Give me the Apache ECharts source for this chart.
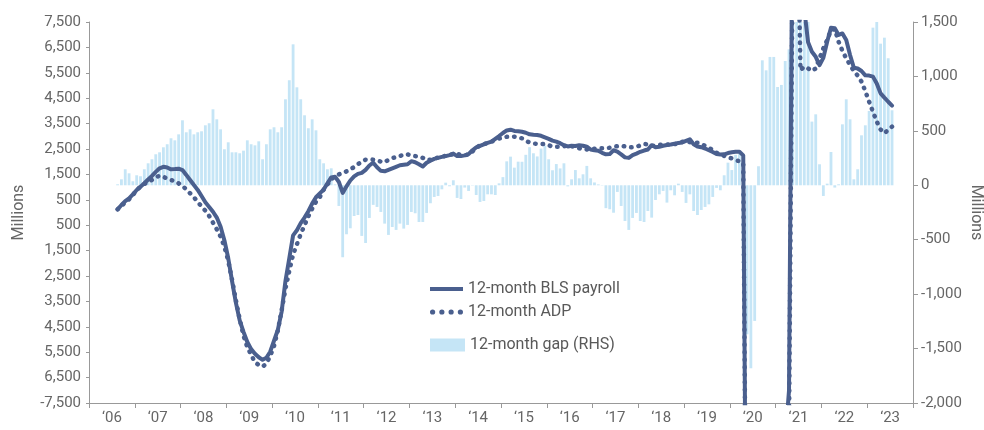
<!DOCTYPE html>
<html>
<head>
<meta charset="utf-8">
<script src="https://cdn.jsdelivr.net/npm/echarts@6/dist/echarts.min.js"></script>
<style>
  html, body { margin: 0; padding: 0; background: #fff; }
  #chart-main { width: 984px; height: 430px; }
</style>
</head>
<body>
<div id="chart-main"></div>
<script>
  // year labels on the bottom axis
  const years = ['‘06', '‘07', '‘08', '‘09', '‘10', '‘11', '‘12', '‘13', '‘14',
    '‘15', '‘16', '‘17', '‘18', '‘19', '‘20', '‘21', '‘22', '‘23'];
  // first data month: Aug 2006 (month index 7 from Jan 2006)
  const startMonth = 7;

  // 12-month gap, thousands (right axis)
  const gap = [
    9, 55, 147, 110, 37, 92, 83, 147, 202, 239,
    285, 303, 349, 377, 432, 413, 468, 597, 487, 514,
    468, 487, 496, 551, 570, 698, 606, 514, 331, 395,
    303, 303, 294, 318, 413, 377, 367, 404, 239, 377,
    514, 533, 487, 533, 790, 965, 1295, 900, 790, 643,
    524, 606, 505, 239, 202, 147, 156, 9, -190, -661,
    -450, -395, -282, -273, -465, -530, -300, -180, -199, -245,
    -352, -456, -383, -410, -352, -398, -364, -245, -257, -337,
    -337, -254, -165, -107, -98, -37, 24, -9, 46, -116,
    -126, -21, -52, -3, -89, -153, -144, -83, -83, -89,
    18, 75, 220, 263, 162, 217, 216, 280, 350, 294,
    265, 337, 365, 239, 138, 195, 155, 202, -10, 55,
    140, 64, 101, 178, 64, 26, 8, -3, -210, -220,
    -252, -61, -190, -328, -410, -300, -254, -328, -337, -236,
    -297, -135, -83, -52, -159, -46, -92, 15, -61, -162,
    -83, -236, -273, -227, -199, -175, -107, -24, -46, 92,
    208, 140, 280, 290, -800, -1369, -1681, -1246, 175, 1148,
    1056, 1179, 1179, 903, 922, 1142, 1249, 1500, 1500, 1500,
    1500, 1500, 585, 652, 193, -98, 15, 306, -21, 9,
    560, 790, 606, 55, 147, 459, 551, 683, 1448, 1510,
    1301, 1356, 1167, 689
  ];

  // 12-month BLS payroll change, thousands (left axis)
  const bls = [
    125, 295, 450, 560, 715, 885, 1015, 1150, 1300, 1440,
    1600, 1740, 1800, 1770, 1700, 1710, 1725, 1670, 1480, 1280,
    1080, 890, 650, 400, 220, 30, -200, -560, -1100, -1800,
    -2700, -3550, -4250, -4700, -5100, -5380, -5560, -5700, -5800, -5720,
    -5480, -5050, -4620, -3900, -2700, -1800, -900, -700, -420, -200,
    50, 350, 600, 750, 900, 1150, 1380, 1410, 1200, 770,
    1030, 1260, 1420, 1520, 1560, 1680, 1850, 1960, 1780, 1640,
    1620, 1680, 1740, 1800, 1860, 1880, 1900, 2020, 1980, 1900,
    1810, 1960, 2040, 2110, 2150, 2190, 2220, 2260, 2320, 2220,
    2220, 2250, 2300, 2450, 2560, 2620, 2680, 2740, 2790, 2900,
    3010, 3130, 3230, 3260, 3210, 3200, 3180, 3140, 3080, 3060,
    3050, 3020, 2960, 2900, 2830, 2790, 2730, 2650, 2600, 2630,
    2620, 2650, 2630, 2590, 2480, 2450, 2430, 2350, 2290, 2300,
    2450, 2400, 2290, 2170, 2150, 2260, 2320, 2390, 2440, 2480,
    2650, 2570, 2590, 2630, 2660, 2680, 2710, 2740, 2760, 2820,
    2880, 2690, 2600, 2570, 2520, 2450, 2380, 2300, 2280, 2290,
    2340, 2370, 2390, 2390, 2250, -19500, -17800, -15500, -13200, -12000,
    -11000, -10500, -10000, -9600, -9300, -9000, -7000, 14000, 12500, 10000,
    8000, 6700, 6330, 6130, 5800, 6090, 6720, 7270, 7250, 6990,
    7050, 6790, 6200, 5700, 5670, 5570, 5400, 5390, 5350, 5080,
    4690, 4520, 4360, 4210
  ];

  // 12-month ADP change, thousands (left axis)
  const adp = [
    125, 256, 400, 518, 689, 886, 1017, 1122, 1213, 1279,
    1384, 1450, 1410, 1332, 1279, 1240, 1148, 1043, 912, 754,
    597, 426, 230, 72, -138, -400, -663, -951, -1350, -1900,
    -2650, -3450, -4200, -4850, -5300, -5600, -5900, -6000, -6070, -5950,
    -5650, -5250, -4650, -3850, -3000, -2300, -1650, -1250, -850, -500,
    -150, 150, 420, 600, 900, 1100, 1300, 1420, 1500, 1560,
    1620, 1700, 1790, 1900, 2000, 2080, 2090, 2080, 2060, 2000,
    1980, 2080, 2140, 2180, 2220, 2290, 2290, 2250, 2220, 2200,
    2150, 2070, 2080, 2130, 2160, 2200, 2230, 2270, 2290, 2300,
    2280, 2260, 2280, 2400, 2550, 2640, 2690, 2740, 2790, 2850,
    2910, 2950, 2980, 2990, 2985, 2960, 2920, 2830, 2750, 2720,
    2700, 2690, 2700, 2650, 2590, 2590, 2590, 2610, 2630, 2610,
    2570, 2530, 2490, 2480, 2490, 2510, 2525, 2525, 2525, 2550,
    2590, 2610, 2630, 2600, 2560, 2570, 2590, 2640, 2700, 2680,
    2630, 2630, 2660, 2690, 2680, 2660, 2690, 2720, 2780, 2810,
    2770, 2750, 2750, 2700, 2620, 2540, 2470, 2350, 2290, 2230,
    2170, 2130, 2060, 2020, 1950, -19000, -17500, -15300, -13000, -11800,
    -10800, -10300, -9900, -9500, -9200, -8900, -8500, 11000, 14000, 5600,
    5740, 5670, 5570, 5670, 6070, 6460, 6790, 7180, 7220, 6720,
    6360, 6070, 5810, 5570, 5390, 5150, 4780, 4360, 3970, 3580,
    3270, 3120, 3250, 3380
  ];

  const lineColor = '#4a5f8e';
  const barColor = '#c5e5f6';
  const textColor = '#666';
  const axisColor = '#999';

  // legend icons: a bar for the solid line, four dots for the dotted one
  const solidIcon = 'path://M0,0L33,0L33,4L0,4Z';
  const dotIcon = 'path://M0,2.25a2.25,2.25 0 1,0 4.5,0a2.25,2.25 0 1,0 -4.5,0' +
    'M8,2.25a2.25,2.25 0 1,0 4.5,0a2.25,2.25 0 1,0 -4.5,0' +
    'M16,2.25a2.25,2.25 0 1,0 4.5,0a2.25,2.25 0 1,0 -4.5,0' +
    'M24,2.25a2.25,2.25 0 1,0 4.5,0a2.25,2.25 0 1,0 -4.5,0';

  // one hidden category per month, 2006-2023
  const months = [];
  for (let y = 2006; y <= 2023; y++) {
    for (let m = 1; m <= 12; m++) months.push(y + '-' + m);
  }
  const toPoints = arr => arr.map((v, i) => [i + startMonth, v]);

  function fmt(v) {
    return Math.abs(v).toLocaleString('en-US');
  }

  let chartDom = document.getElementById('chart-main');
  let myChart = echarts.init(chartDom);

  let option = {
    animation: false,
    textStyle: { fontFamily: 'Roboto, sans-serif' },
    grid: { left: 89, right: 71, top: 22, bottom: 27, outerBoundsMode: 'none' },
    legend: [
      {
        data: [
          { name: '12-month BLS payroll', icon: solidIcon },
          { name: '12-month ADP', icon: dotIcon },
        ],
        orient: 'vertical',
        left: 425,
        top: 276,
        itemWidth: 33,
        itemHeight: 14,
        itemGap: 7,
        textStyle: { fontSize: 16, color: '#595959' },
      },
      {
        data: [{ name: '12-month gap (RHS)', icon: 'rect' }],
        left: 425,
        top: 332,
        itemWidth: 35,
        itemHeight: 13,
        textStyle: { fontSize: 16, color: '#595959' },
      },
    ],
    xAxis: [
      {
        type: 'category',
        data: years,
        boundaryGap: true,
        axisLine: { onZero: false, lineStyle: { color: axisColor, width: 1 } },
        axisTick: { show: true, length: 5, lineStyle: { color: axisColor } },
        axisLabel: { color: textColor, fontSize: 15, margin: 8 },
      },
      {
        type: 'category',
        data: months,
        boundaryGap: true,
        show: false,
      },
    ],
    yAxis: [
      {
        type: 'value',
        min: -7500,
        max: 7500,
        interval: 1000,
        name: 'Millions',
        nameLocation: 'middle',
        nameGap: 62,
        nameMoveOverlap: false,
        nameTextStyle: { color: textColor, fontSize: 16 },
        axisLine: { show: true, lineStyle: { color: axisColor } },
        axisTick: { show: true, length: 3, lineStyle: { color: axisColor } },
        axisLabel: {
          color: textColor,
          fontSize: 15,
          margin: 8,
          formatter: v => (v === -7500 ? '-7,500' : fmt(v)),
        },
        splitLine: { show: false },
      },
      {
        type: 'value',
        min: -2000,
        max: 1500,
        interval: 500,
        name: 'Millions',
        nameLocation: 'middle',
        nameRotate: -90,
        nameGap: 55,
        nameMoveOverlap: false,
        nameTextStyle: { color: textColor, fontSize: 16 },
        axisLine: { show: true, lineStyle: { color: axisColor } },
        axisTick: { show: true, length: 5, lineStyle: { color: axisColor } },
        axisLabel: {
          color: textColor,
          fontSize: 15,
          margin: 8,
          formatter: v => v.toLocaleString('en-US'),
        },
        splitLine: { show: false },
      },
    ],
    series: [
      {
        name: '12-month gap (RHS)',
        type: 'bar',
        xAxisIndex: 1,
        yAxisIndex: 1,
        barWidth: '74%',
        itemStyle: { color: barColor },
        data: toPoints(gap),
        z: 1,
      },
      {
        name: '12-month BLS payroll',
        type: 'line',
        xAxisIndex: 1,
        yAxisIndex: 0,
        symbol: 'none',
        lineStyle: { color: lineColor, width: 4, join: 'round', cap: 'round' },
        itemStyle: { color: lineColor },
        data: toPoints(bls),
        z: 3,
      },
      {
        name: '12-month ADP',
        type: 'line',
        xAxisIndex: 1,
        yAxisIndex: 0,
        symbol: 'none',
        lineStyle: { color: lineColor, width: 4.5, type: [0.5, 7], cap: 'round' },
        itemStyle: { color: lineColor },
        data: toPoints(adp),
        z: 2,
      },
    ],
  };

  option && myChart.setOption(option);
</script>
</body>
</html>
